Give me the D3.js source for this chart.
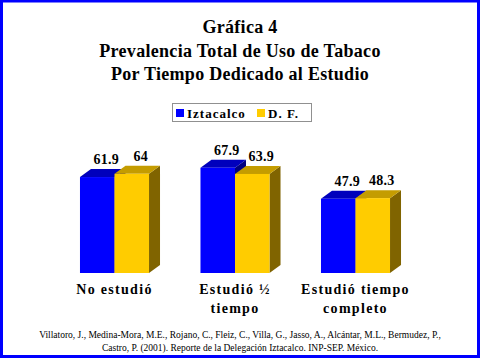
<!DOCTYPE html>
<html><head><meta charset="utf-8">
<script src="https://cdn.jsdelivr.net/npm/d3@7"></script>
<style>body{margin:0;background:#fff}svg{display:block}</style>
</head><body>
<svg id="c" width="480" height="360"></svg>
<script>
const categories = [["No estudió"], ["Estudió ½", "tiempo"], ["Estudió tiempo", "completo"]];
const catKeys = ["No estudió", "Estudió ½ tiempo", "Estudió tiempo completo"];
const seriesNames = ["Iztacalco", "D. F."];
const iztacalco = [61.9, 67.9, 47.9];
const df = [64, 63.9, 48.3];
const titleLines = ["Gráfica 4", "Prevalencia Total de Uso de Tabaco", "Por Tiempo Dedicado al Estudio"];
const sourceLines = ["Villatoro, J., Medina-Mora, M.E., Rojano, C., Fleiz, C., Villa, G., Jasso, A., Alcántar, M.L., Bermudez, P.,",
  "Castro, P. (2001). Reporte de la Delegación Iztacalco. INP-SEP. México."];

const colors = {front: ["#0000ff", "#ffcc00"], top: ["#0000bc", "#c49c00"], side: ["#000080", "#806400"]};
const svg = d3.select("#c");
const serif = "'Liberation Serif','Times New Roman','DejaVu Serif',serif";

svg.append("rect").attr("x", 1.5).attr("y", 1).attr("width", 477).attr("height", 355.5)
  .attr("fill", "#fff").attr("stroke", "#0000ff").attr("stroke-width", 3);

svg.append("g").selectAll("text").data(titleLines).join("text")
  .attr("x", 240).attr("y", (d, i) => 33 + i * 23.5)
  .attr("text-anchor", "middle").attr("font-family", serif).attr("font-weight", "bold")
  .attr("font-size", 18).attr("letter-spacing", 0.3).text(d => d);

const x = d3.scaleBand().domain(catKeys).range([54.25, 415.75]).paddingInner(0.427).paddingOuter(0.2135);
const xs = d3.scaleBand().domain(seriesNames).range([0, x.bandwidth()]);
const y = d3.scaleLinear().domain([0, 100]).range([273, 118]);
const dx = 11, dy = 8;

const data = catKeys.map((c, i) => ({c, vals: [iztacalco[i], df[i]]}));
const g = svg.append("g");
data.forEach(d => {
  d.vals.forEach((v, si) => {
    const x0 = x(d.c) + xs(seriesNames[si]), w = xs.bandwidth();
    const yt = y(v), yb = y(0);
    const bg = g.append("g");
    bg.append("path").attr("fill", colors.side[si])
      .attr("d", `M${x0 + w},${yb}L${x0 + w + dx},${yb - dy}L${x0 + w + dx},${yt - dy}L${x0 + w},${yt}Z`);
    bg.append("path").attr("fill", colors.top[si])
      .attr("d", `M${x0},${yt}L${x0 + dx},${yt - dy}L${x0 + w + dx},${yt - dy}L${x0 + w},${yt}Z`);
    bg.append("rect").attr("fill", colors.front[si]).attr("x", x0).attr("y", yt).attr("width", w).attr("height", yb - yt);
    g.append("text").attr("x", x0 + w / 2 + 9).attr("y", yt - dy - 5)
      .attr("text-anchor", "middle").attr("font-family", serif).attr("font-weight", "bold")
      .attr("font-size", 14).attr("letter-spacing", 0.3).text(v);
  });
});

// category labels
categories.forEach((lines, i) => {
  const cx = x(catKeys[i]) + x.bandwidth() / 2;
  lines.forEach((t, j) => {
    svg.append("text").attr("x", cx).attr("y", 294 + j * 19)
      .attr("text-anchor", "middle").attr("font-family", serif).attr("font-weight", "bold")
      .attr("font-size", 14).attr("letter-spacing", 1.3).text(t);
  });
});

// legend
const lg = svg.append("g");
lg.append("rect").attr("x", 172.5).attr("y", 103.5).attr("width", 139).attr("height", 18)
  .attr("fill", "#fff").attr("stroke", "#909090").attr("stroke-width", 1);
const legX = [176, 257];
seriesNames.forEach((s, i) => {
  lg.append("rect").attr("x", legX[i]).attr("y", 109).attr("width", 8).attr("height", 8).attr("fill", colors.front[i]);
  lg.append("text").attr("x", legX[i] + 11).attr("y", 117.5).attr("font-family", serif).attr("font-weight", "bold")
    .attr("font-size", 13).attr("letter-spacing", 1).text(s);
});

svg.append("g").selectAll("text").data(sourceLines).join("text")
  .attr("x", 240).attr("y", (d, i) => 338 + i * 12.5)
  .attr("text-anchor", "middle").attr("font-family", serif).attr("font-size", 9.5)
  .text(d => d);
</script>
</body></html>
